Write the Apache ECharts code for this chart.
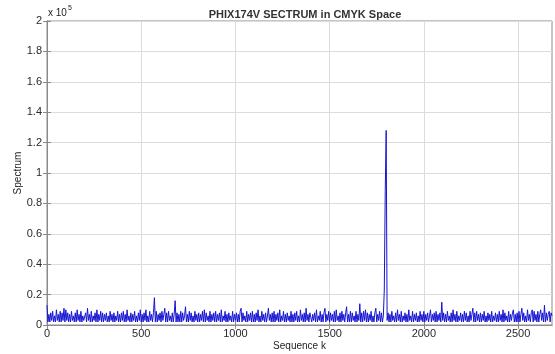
<!DOCTYPE html>
<html>
<head>
<meta charset="utf-8">
<script src="https://cdn.jsdelivr.net/npm/echarts@6/dist/echarts.min.js"></script>
<style>html,body{margin:0;padding:0;background:#fff}#c{width:555px;height:354px}</style>
</head>
<body>
<div id="c"></div>
<script>
// Sequence index step between stored samples
const kStep = 5;
const kMax = 2680;
// Spectrum values, in units of 1e3 (sampled every 5 positions, k = 0..2680)
const spectrumThousands = [
  13,2,7,2,8,3,9,2,6,2,10,3,7,2,9,2,8,3,11,2,
  10,3,8,2,7,2,9,3,6,2,8,2,10,3,7,2,9,2,6,3,
  2,8,2,11,3,7,2,9,2,6,3,8,2,10,2,7,3,9,2,8,
  2,7,3,8,2,6,2,9,3,7,2,8,2,6,3,9,2,7,2,8,
  3,9,2,7,2,10,3,6,2,8,2,7,3,9,2,6,2,8,3,10,
  2,7,2,8,3,10,2,6,2,9,3,7,2,8,18,2,9,2,7,3,
  8,2,9,3,7,11,2,8,2,9,3,6,2,8,2,7,16,2,8,2,
  7,2,9,2,8,3,6,12,2,7,2,9,3,8,2,6,2,9,3,7,
  2,8,2,7,3,9,2,10,2,8,3,6,2,9,2,7,3,8,2,9,
  2,7,3,8,2,10,2,6,3,9,2,7,2,8,3,6,2,9,2,7,
  3,8,2,7,2,9,11,2,8,3,6,2,9,2,7,3,8,2,9,2,
  7,2,8,3,10,2,6,2,9,3,7,2,8,2,6,11,3,7,2,8,
  2,9,2,7,3,8,2,10,2,6,3,9,2,7,2,8,3,6,2,9,
  2,7,2,8,3,9,2,6,2,10,3,7,2,8,2,11,3,7,2,8,
  9,2,7,3,8,2,10,2,6,3,9,2,7,2,8,11,2,7,3,9,
  2,8,3,7,2,9,2,10,3,6,2,8,2,9,3,7,2,8,12,2,
  7,2,9,2,8,3,6,2,9,2,7,3,14,2,8,2,9,3,10,2,
  8,2,7,3,9,2,6,2,8,11,2,7,3,9,2,8,2,6,23,88,
  128,3,8,2,7,2,9,3,6,2,8,2,10,3,7,2,9,2,6,3,
  8,2,7,2,10,3,6,2,9,2,7,3,8,2,6,2,9,3,7,2,
  9,2,7,3,8,2,6,10,2,7,3,8,2,9,2,7,3,8,2,15,
  3,8,2,7,2,9,3,6,2,8,2,10,3,7,2,9,2,6,3,8,
  2,7,2,9,3,8,2,6,2,9,3,7,11,2,8,2,9,3,7,2,
  8,2,7,3,9,2,6,2,8,3,7,2,9,2,6,3,8,2,7,2,
  9,3,7,2,10,2,8,3,6,2,9,2,7,3,8,10,2,7,2,8,
  2,9,2,7,11,3,8,2,6,2,10,3,7,2,8,10,2,9,3,7,
  2,9,2,7,10,3,8,2,13,2,8,3,7,9,2,8,6
];
const xTicks = [0, 500, 1000, 1500, 2000, 2500];
const yTicks = [0, 0.2, 0.4, 0.6, 0.8, 1, 1.2, 1.4, 1.6, 1.8, 2]; // x 10^5
const titleText = 'PHIX174V SECTRUM in CMYK Space';
const xLabel = 'Sequence k';
const yLabel = 'Spectrum';

const seriesData = spectrumThousands.map((v, i) => [i * kStep, v * 1000]);
const yTickValues = yTicks.map(t => t * 1e5);

const chart = echarts.init(document.getElementById('c'), null, {renderer: 'canvas'});
const font = 'Liberation Sans, Arial, Helvetica, sans-serif';
const gridColor = '#dcdcdc';
const axisColor = '#8a8a8a';
const labelColor = '#2a2a2a';

const option = {
  animation: false,
  backgroundColor: '#ffffff',
  title: {
    text: titleText,
    left: 300, top: 4, textAlign: 'center',
    textStyle: {fontFamily: font, fontSize: 11, fontWeight: 'bold', color: '#333'}
  },
  grid: {left: 47, right: 3, top: 21, bottom: 29, show: true, borderColor: axisColor, borderWidth: 1,
    containLabel: false, outerBoundsMode: 'none'},
  xAxis: [{
    type: 'value', min: 0, max: kMax,
    axisLine: {show: true, onZero: false, lineStyle: {color: axisColor}},
    axisTick: {show: true, inside: true, length: 4, customValues: xTicks, lineStyle: {color: axisColor}},
    axisLabel: {customValues: xTicks, fontFamily: font, fontSize: 11, color: labelColor, margin: 3,
      formatter: v => String(v)},
    splitLine: {show: true, lineStyle: {color: gridColor, width: 1}},
    name: xLabel, nameLocation: 'middle', nameGap: 16, nameMoveOverlap: false,
    nameTextStyle: {fontFamily: font, fontSize: 10, color: '#222'}
  }, {
    type: 'value', min: 0, max: kMax, position: 'top',
    axisLine: {show: true, lineStyle: {color: axisColor}},
    axisTick: {show: true, inside: true, length: 4, customValues: xTicks, lineStyle: {color: axisColor}},
    axisLabel: {show: false}, splitLine: {show: false}
  }],
  yAxis: [{
    type: 'value', min: 0, max: 2e5, interval: 2e4,
    axisLine: {show: true, onZero: false, lineStyle: {color: axisColor}},
    axisTick: {show: true, inside: true, length: 4, customValues: yTickValues, lineStyle: {color: axisColor}},
    axisLabel: {customValues: yTickValues, fontFamily: font, fontSize: 11, color: labelColor, margin: 5,
      formatter: v => String(Math.round(v / 1e5 * 10) / 10)},
    splitLine: {show: true, lineStyle: {color: gridColor, width: 1}},
    name: yLabel, nameLocation: 'middle', nameGap: 24, nameRotate: 90, nameMoveOverlap: false,
    nameTextStyle: {fontFamily: font, fontSize: 10, color: '#222'}
  }, {
    type: 'value', min: 0, max: 2e5, interval: 2e4, position: 'right',
    axisLine: {show: true, lineStyle: {color: axisColor}},
    axisTick: {show: true, inside: true, length: 4, customValues: yTickValues, lineStyle: {color: axisColor}},
    axisLabel: {show: false}, splitLine: {show: false}
  }],
  graphic: [{
    type: 'text', left: 48, top: 8,
    style: {text: 'x 10', fontFamily: font, fontSize: 10, fill: '#222'}
  }, {
    type: 'text', left: 68, top: 5,
    style: {text: '5', fontFamily: font, fontSize: 7, fill: '#222'}
  }],
  series: [{
    type: 'line', xAxisIndex: 0, yAxisIndex: 0,
    data: seriesData, showSymbol: false, symbol: 'none',
    lineStyle: {color: '#1414d2', width: 1},
    silent: true
  }]
};
chart.setOption(option);
</script>
</body>
</html>
